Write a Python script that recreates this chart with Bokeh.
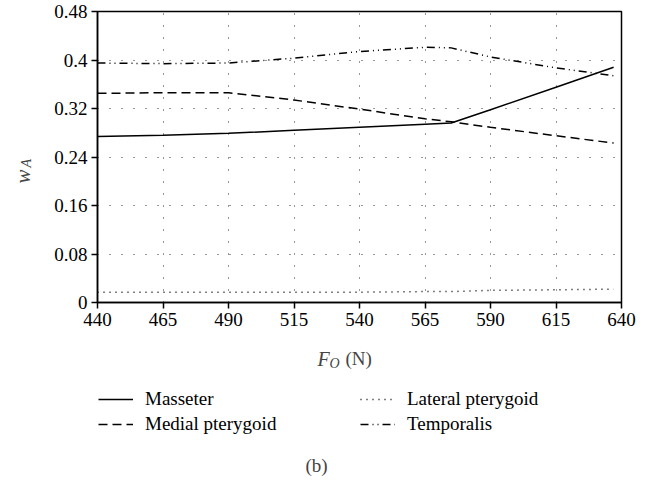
import math
from bokeh.plotting import figure
from bokeh.models import Range1d, FixedTicker, Legend, LegendItem, Label
from bokeh.layouts import column, row
from bokeh.embed import file_html
from bokeh.resources import INLINE

# ---- data ----
force = [440, 465, 490, 515, 540, 565, 575, 590, 615, 637]
masseter = [0.274, 0.276, 0.279, 0.284, 0.289, 0.294, 0.296, 0.318, 0.355, 0.388]
medial = [0.345, 0.346, 0.346, 0.334, 0.319, 0.303, 0.298, 0.289, 0.275, 0.263]
lateral = [0.017, 0.017, 0.017, 0.017, 0.017, 0.018, 0.018, 0.020, 0.021, 0.022]
temporalis = [0.395, 0.394, 0.395, 0.403, 0.414, 0.421, 0.420, 0.405, 0.387, 0.374]

x_ticks = [440, 465, 490, 515, 540, 565, 590, 615, 640]
y_ticks = [0, 0.08, 0.16, 0.24, 0.32, 0.4, 0.48]
y_tick_labels = ["0", "0.08", "0.16", "0.24", "0.32", "0.4", "0.48"]
series_names = ["Masseter", "Medial pterygoid", "Lateral pterygoid", "Temporalis"]
series_dash = ["solid", "9 5", "1 5", "8 4 1 4 1 4"]

FONT = "Liberation Serif"

# ---------------- main plot ----------------
p = figure(width=606, height=338, output_backend="svg", toolbar_location=None,
           x_range=Range1d(440, 640), y_range=Range1d(0, 0.48),
           min_border_left=57, min_border_right=25, min_border_top=11,
           min_border_bottom=36)
p.background_fill_color = "white"
p.border_fill_color = "white"
p.outline_line_color = "black"
p.outline_line_width = 1.5

p.xaxis.ticker = FixedTicker(ticks=x_ticks)
p.yaxis.ticker = FixedTicker(ticks=y_ticks)
p.yaxis.major_label_overrides = {t: l for t, l in zip(y_ticks, y_tick_labels)}
for ax in (p.xaxis, p.yaxis):
    ax.major_label_text_font = FONT
    ax.major_label_text_font_size = "19px"
    ax.major_label_text_color = "black"
    ax.axis_line_color = "black"
    ax.axis_line_width = 1.5
    ax.major_tick_line_color = "black"
    ax.major_tick_line_width = 1.5
    ax.major_tick_out = 6
    ax.major_tick_in = 0
    ax.minor_tick_line_color = None
    ax.major_label_standoff = 4

for g in (p.xgrid, p.ygrid):
    g.grid_line_color = "#333333"
    g.grid_line_dash = "1 11"
    g.grid_line_width = 1

series_vals = [masseter, medial, lateral, temporalis]
for vals, dash in zip(series_vals, series_dash):
    p.line(force, vals, line_color="black", line_width=1.5, line_dash=dash)

# ---------------- y label panel (frame aligned with the main frame) ----------------
left = figure(width=40, height=338, output_backend="svg", toolbar_location=None,
              x_range=Range1d(0, 40), y_range=Range1d(0, 338),
              x_axis_type=None, y_axis_type=None, min_border=0)
left.outline_line_color = None
left.grid.visible = False
left.add_layout(Label(x=22, y=119, x_units="screen", y_units="screen", text="w",
                      angle=math.pi / 2, text_font=FONT, text_font_style="italic",
                      text_font_size="21px", text_align="left",
                      text_baseline="alphabetic"))
left.add_layout(Label(x=26, y=135, x_units="screen", y_units="screen", text="A",
                      angle=math.pi / 2, text_font=FONT, text_font_style="italic",
                      text_font_size="14px", text_align="left",
                      text_baseline="alphabetic"))

# ---------------- bottom panel: x label, legend, caption ----------------
bot = figure(width=646, height=142, output_backend="svg", toolbar_location=None,
             x_range=Range1d(0, 646), y_range=Range1d(0, 142),
             x_axis_type=None, y_axis_type=None, min_border=0)
bot.outline_line_color = None
bot.grid.visible = False

nan = float("nan")
legend_renderers = [bot.line(x=[nan, nan], y=[nan, nan], line_color="black",
                             line_width=1.5, line_dash=dash) for dash in series_dash]


def make_legend(idx, loc):
    items = [LegendItem(label=series_names[i], renderers=[legend_renderers[i]])
             for i in idx]
    return Legend(items=items, location=loc, orientation="vertical",
                  label_text_font=FONT, label_text_font_size="19px",
                  label_text_color="black", glyph_width=35, glyph_height=22,
                  label_height=22, spacing=3, label_standoff=12, padding=0,
                  margin=0, border_line_color=None, background_fill_alpha=0)


bot.add_layout(make_legend([0, 1], (98, 45)), "center")
bot.add_layout(make_legend([2, 3], (360, 45)), "center")

bot.add_layout(Label(x=317, y=122, x_units="screen", y_units="screen", text="F",
                     text_font=FONT, text_font_style="italic", text_font_size="20px",
                     text_align="left", text_baseline="alphabetic"))
bot.add_layout(Label(x=329, y=117, x_units="screen", y_units="screen", text="O",
                     text_font=FONT, text_font_style="italic", text_font_size="14px",
                     text_align="left", text_baseline="alphabetic"))
bot.add_layout(Label(x=345, y=122, x_units="screen", y_units="screen", text="(N)",
                     text_font=FONT, text_font_size="19px",
                     text_align="left", text_baseline="alphabetic"))
bot.add_layout(Label(x=316, y=15, x_units="screen", y_units="screen", text="(b)",
                     text_font=FONT, text_font_size="19px",
                     text_align="center", text_baseline="middle"))

layout = column(row(left, p), bot)
open("out.html", "w").write(file_html(layout, INLINE))
